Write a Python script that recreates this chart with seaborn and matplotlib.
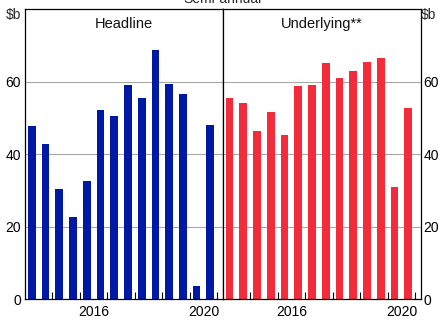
import matplotlib
matplotlib.use("Agg")
import matplotlib.pyplot as plt
import seaborn as sns
import numpy as np
import pandas as pd

# ---- data ----
periods = ["2014H1", "2014H2", "2015H1", "2015H2", "2016H1", "2016H2", "2017H1",
           "2017H2", "2018H1", "2018H2", "2019H1", "2019H2", "2020H1", "2020H2"]
headline = [47.8, 42.8, 30.3, 22.8, 32.7, 52.2, 50.4, 59.0, 55.6, 68.8, 59.2, 56.6, 3.6, 48.1]
underlying = [55.5, 54.2, 46.4, 51.6, 45.3, 58.8, 59.1, 65.2, 61.0, 62.9, 65.4, 66.4, 31.0, 52.8]
panel_titles = ["Headline", "Underlying**"]
y_ticks = [0, 20, 40, 60, 80]
y_tick_labels = ["0", "20", "40", "60", ""]
x_tick_years = [2016, 2020]
title = "Semi-annual"
unit = "$b"

blue = "#0019A4"
red = "#F42B3A"

sns.set_theme(style="white")
plt.rcParams["font.family"] = ["Liberation Sans", "DejaVu Sans"]
plt.rcParams["font.size"] = 10

def pos(p):
    y = int(p[:4])
    return y + (0.25 if p.endswith("H1") else 0.75)

df = pd.DataFrame({"period": periods,
                   "x": [pos(p) for p in periods],
                   "Headline": headline,
                   "Underlying": underlying})

W, H = 439, 323
fig = plt.figure(figsize=(W / 100, H / 100), dpi=100)
bottom = 1 - 299.3 / H
top = 1 - 9 / H
ax1 = fig.add_axes([25 / W, bottom, 197.7 / W, top - bottom])
ax2 = fig.add_axes([222.7 / W, bottom, 198 / W, top - bottom])

for ax, col, color, ttl in [(ax1, "Headline", blue, panel_titles[0]),
                            (ax2, "Underlying", red, panel_titles[1])]:
    sns.barplot(data=df, x="x", y=col, native_scale=True, width=0.56,
                color=color, saturation=1, linewidth=0, ax=ax)
    ax.set_xlim(2014, 2021.2)
    ax.set_ylim(0, 80)
    ax.set_xlabel("")
    ax.set_ylabel("")
    ax.set_yticks(y_ticks)
    ax.set_yticklabels(y_tick_labels)
    for g in [20, 40, 60]:
        ax.axhline(g, color="#A8A8A8", lw=0.8, zorder=0)
    ax.set_xticks(list(range(2015, 2022)))
    ax.set_xticklabels([""] * 7)
    ax.set_xticks([y + 0.5 for y in x_tick_years], minor=True)
    ax.set_xticklabels([str(y) for y in x_tick_years], minor=True)
    ax.tick_params(axis="x", which="major", direction="in", length=5, width=0.8,
                   color="black", bottom=True)
    ax.tick_params(axis="x", which="minor", length=0, labelsize=10, pad=4,
                   labelcolor="black")
    ax.tick_params(axis="y", length=0, labelsize=10, pad=3, labelcolor="black")
    for s in ax.spines.values():
        s.set_visible(True)
        s.set_color("black")
        s.set_linewidth(0.9)
    ax.text(0.5, 1 - 15 / 290.3, ttl, transform=ax.transAxes, ha="center",
            va="center", fontsize=10.5, color="#111111")

ax1.yaxis.tick_left()
ax2.yaxis.tick_right()
ax2.tick_params(axis="y", labelleft=False, labelright=True, length=0, pad=2)

fig.text(14 / W, 1 - 15 / H, unit, ha="center", va="center", fontsize=10)
fig.text(428.5 / W, 1 - 15 / H, unit, ha="center", va="center", fontsize=10)
fig.text(222 / W, 1 - 3.3 / H, title, ha="center", va="baseline", fontsize=10)

fig.savefig("out.png", dpi=100)
